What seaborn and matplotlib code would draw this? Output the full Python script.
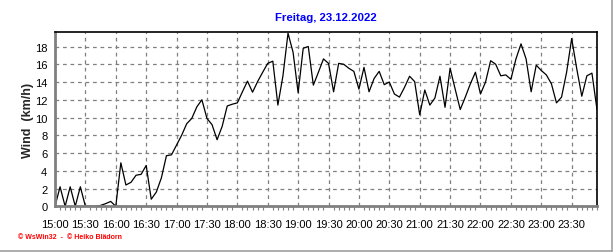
import numpy as np
import pandas as pd
import matplotlib
matplotlib.use("Agg")
import matplotlib.pyplot as plt
from matplotlib.ticker import MultipleLocator, FixedLocator
from matplotlib.lines import Line2D
import seaborn as sns

title = "Freitag, 23.12.2022"
ylabel = "Wind  (km/h)"
footer = "© WsWin32  -  © Heiko Blädorn"
tick_labels = ["15:00", "15:30", "16:00", "16:30", "17:00", "17:30", "18:00", "18:30",
               "19:00", "19:30", "20:00", "20:30", "21:00", "21:30", "22:00", "22:30",
               "23:00", "23:30"]
# wind speed every 5 minutes from 15:00 to 23:55
wind = [0, 2.2, 0, 2.2, 0, 2.2, 0, 0, 0, 0.1, 0.3, 0.55,
        0, 4.9, 2.4, 2.7, 3.5, 3.6, 4.6, 0.8, 1.6, 3.2, 5.7, 5.8,
        6.9, 8.0, 9.3, 9.9, 11.2, 12.0, 9.9, 9.2, 7.5, 9.0, 11.3, 11.5,
        11.65, 12.9, 14.1, 12.85, 14.05, 15.1, 16.1, 16.35, 11.4, 14.7, 19.5, 17.35,
        12.8, 17.8, 18.0, 13.65, 15.1, 16.6, 16.1, 12.9, 16.1, 16.0, 15.55, 15.2,
        13.2, 15.65, 12.9, 14.4, 15.2, 13.7, 14.0, 12.65, 12.3, 13.4, 14.65, 14.05,
        10.3, 13.1, 11.4, 12.2, 14.65, 11.15, 15.55, 13.2, 10.9, 12.3, 13.8, 15.1,
        12.65, 14.0, 16.4, 16.0, 14.7, 14.8, 14.3, 16.6, 18.3, 16.6, 12.9, 15.9,
        15.3, 14.8, 13.8, 11.65, 12.3, 15.1, 18.9, 15.5, 12.4, 14.7, 15.0, 10.9]
minutes = [5 * i for i in range(len(wind))]

df = pd.DataFrame({"min": minutes, "wind": wind})

sns.set_theme(style="white")
plt.rcParams["font.family"] = ["Liberation Sans", "DejaVu Sans"]

fig = plt.figure(figsize=(6.16, 2.53), dpi=100)
ax = fig.add_axes([55 / 616, (253 - 207.3) / 253, (597 - 55) / 616, (207.3 - 33.3) / 253])

sns.lineplot(data=df, x="min", y="wind", ax=ax, color="black", linewidth=0.9)

ax.set_xlim(0, 535)
ax.set_ylim(0, 19.6)

ax.xaxis.set_major_locator(FixedLocator([30 * i for i in range(len(tick_labels))]))
ax.set_xticklabels(tick_labels)
ax.xaxis.set_minor_locator(MultipleLocator(5))
ax.yaxis.set_major_locator(MultipleLocator(2))

ax.grid(True, which="major", color="#808080", linestyle=(0, (3, 3)), linewidth=0.9)
ax.tick_params(axis="both", which="major", labelsize=8, length=4, width=0.8,
               color="#808080", pad=1.5, labelcolor="black")
ax.tick_params(axis="x", which="minor", length=3, width=0.8, color="#808080", bottom=True)
ax.tick_params(axis="x", which="major", pad=5)

for side in ["top", "right"]:
    ax.spines[side].set_color("black")
    ax.spines[side].set_linewidth(1.2)
for side in ["left", "bottom"]:
    ax.spines[side].set_color("#808080")
    ax.spines[side].set_linewidth(2.0)

ax.set_xlabel("")
ax.set_ylabel(ylabel, fontsize=9, fontweight="bold", labelpad=0)
ax.yaxis.set_label_coords((34 - 55) / (597 - 55), 0.5)

fig.text(326 / 616, 1 - 18 / 253, title, ha="center", va="center", color="#0000FF",
         fontsize=8.2, fontweight="bold")
fig.text(18 / 616, 1 - 238 / 253, footer, ha="left", va="center", color="#FF0000",
         fontsize=5, fontweight="bold")

# figure border (3D frame edges)
fig.add_artist(Line2D([611.5 / 616, 611.5 / 616], [1.5 / 253, 1], transform=fig.transFigure,
                      color="#A0A0A0", linewidth=1.2))
fig.add_artist(Line2D([0, 611.5 / 616], [1.5 / 253, 1.5 / 253], transform=fig.transFigure,
                      color="#A0A0A0", linewidth=1.2))

fig.savefig("out.png", dpi=100)
